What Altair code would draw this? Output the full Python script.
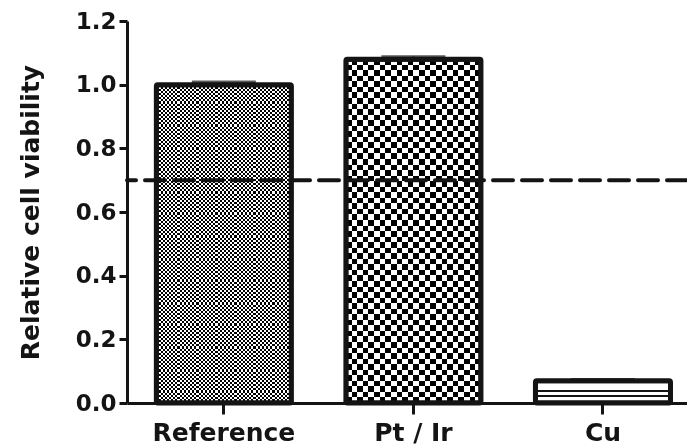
import altair as alt
import pandas as pd

# ---- data ----
categories = ["Reference", "Pt / Ir", "Cu"]
viability = [1.00, 1.08, 0.07]
errors = [0.008, 0.008, 0.004]
threshold = 0.7
y_ticks = [0.0, 0.2, 0.4, 0.6, 0.8, 1.0, 1.2]

df = pd.DataFrame({"group": categories, "value": viability, "err": errors})
df["top"] = df["value"] + df["err"]
thr_df = pd.DataFrame({"thr": [threshold]})

INK = "#141414"
FONT = "DejaVu Sans"
YTITLE = "Relative cell viability"


def stripes(n, direction, c1, c2):
    stops = []
    for i in range(n):
        a, m, b = i / n, (i + 0.5) / n, (i + 1) / n
        stops += [
            alt.GradientStop(color=c1, offset=a),
            alt.GradientStop(color=c1, offset=m),
            alt.GradientStop(color=c2, offset=m),
            alt.GradientStop(color=c2, offset=b),
        ]
    if direction == "x":
        return alt.Gradient(gradient="linear", stops=stops, x1=0, x2=1, y1=0, y2=0)
    return alt.Gradient(gradient="linear", stops=stops, x1=0, x2=0, y1=0, y2=1)


def bands(spec):
    stops = []
    for lo, hi, col in spec:
        stops += [alt.GradientStop(color=col, offset=lo), alt.GradientStop(color=col, offset=hi)]
    return alt.Gradient(gradient="linear", stops=stops, x1=0, x2=0, y1=0, y2=1)


x_enc = alt.X(
    "group:N",
    sort=categories,
    scale=alt.Scale(domain=categories, paddingInner=0.2876, paddingOuter=0.121, align=0.64),
    axis=alt.Axis(title=None, labelAngle=0, tickSize=11, labelFontSize=25, labelPadding=6),
)
yscale = alt.Scale(domain=[0, 1.2], nice=False, zero=True)
yaxis = alt.Axis(values=y_ticks, format=".1f", tickSize=8, labelFontSize=23,
                 labelPadding=3, titleFontSize=25, titlePadding=32)
y_val = alt.Y("value:Q", scale=yscale, axis=yaxis, title=YTITLE)

base = alt.Chart(df)


def bar_layer(cat, fill, **kw):
    return (
        base.transform_filter(alt.datum.group == cat)
        .mark_bar(fill=fill, strokeWidth=0, **kw)
        .encode(x=x_enc, y=y_val)
    )


ref_v = bar_layer("Reference", stripes(32, "x", "black", "white"))
ref_h = bar_layer("Reference", stripes(76, "y", "white", "black"), blend="difference")
pt_v = bar_layer("Pt / Ir", stripes(12, "x", "black", "white"))
pt_h = bar_layer("Pt / Ir", stripes(31, "y", "white", "black"), blend="difference")
cu = bar_layer("Cu", bands([(0, 0.40, "white"), (0.40, 0.49, INK), (0.49, 0.64, "white"),
                             (0.64, 0.73, INK), (0.73, 1.0, "white")]))

border = base.mark_bar(fill="transparent", stroke=INK, strokeWidth=5,
                       cornerRadius=1.5).encode(x=x_enc, y=y_val)

err_rule = base.mark_rule(color=INK, strokeWidth=3).encode(
    x=x_enc, y=y_val, y2="top:Q")
err_cap = base.mark_tick(color=INK, size=64, thickness=3).encode(
    x=x_enc, y=alt.Y("top:Q", scale=yscale, axis=yaxis, title=YTITLE))

thr_line = alt.Chart(thr_df).mark_rule(
    color=INK, strokeWidth=4, strokeDash=[20, 9], strokeCap="round"
).encode(y=alt.Y("thr:Q", scale=yscale, axis=yaxis, title=YTITLE))

chart = (
    alt.layer(ref_v, ref_h, pt_v, pt_h, cu, border, err_rule, err_cap, thr_line)
    .properties(
        width=560,
        height=382,
        padding={"left": 119, "top": 13, "right": 0, "bottom": 42},
        autosize=alt.AutoSizeParams(type="none"),
        background="white",
    )
    .configure_axis(
        grid=False,
        domainWidth=3,
        domainColor=INK,
        tickWidth=3,
        tickColor=INK,
        labelFont=FONT,
        labelFontWeight="bold",
        labelColor=INK,
        titleFont=FONT,
        titleFontWeight="bold",
        titleColor=INK,
    )
    .configure_view(stroke=None)
)

chart.save("out.html", embed_options={"renderer": "svg", "actions": False})
